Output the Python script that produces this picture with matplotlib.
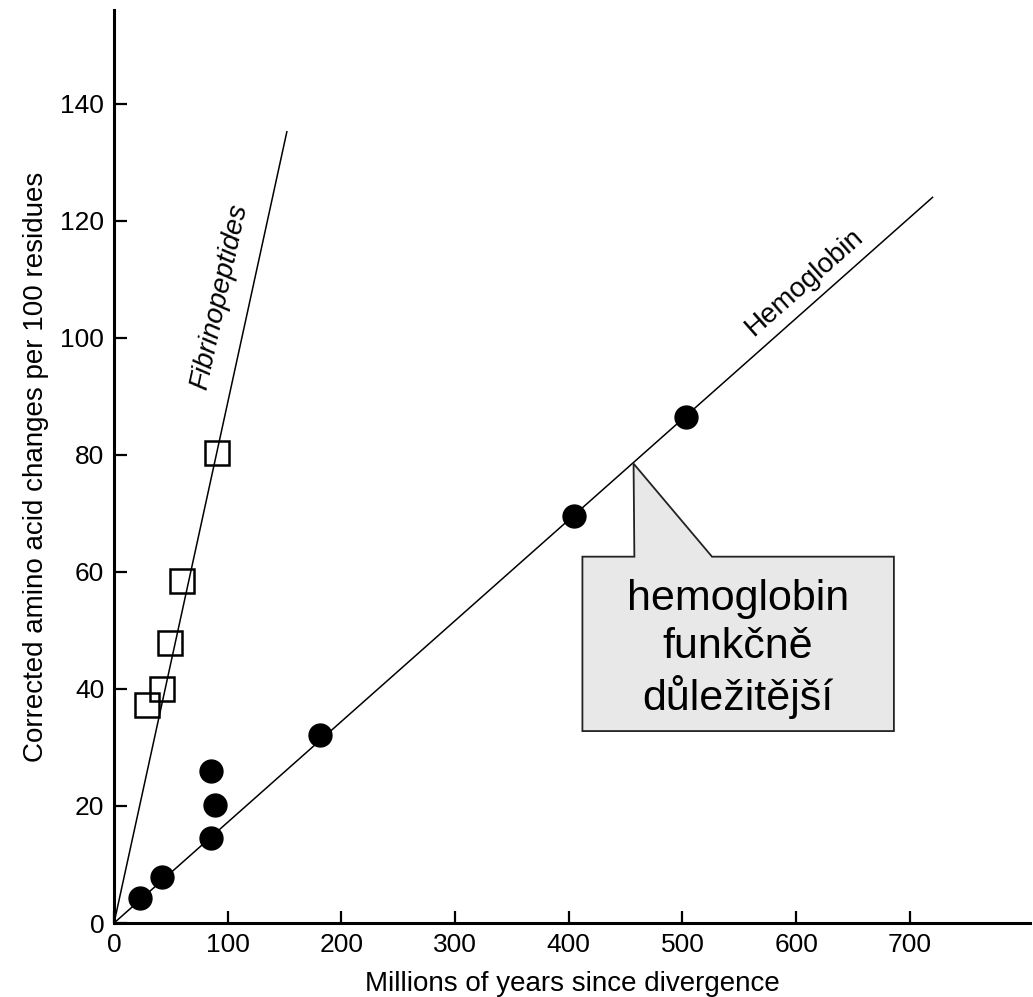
import matplotlib.pyplot as plt
from matplotlib.patches import Polygon

plt.rcParams['font.family'] = ['Liberation Sans', 'DejaVu Sans']

# hemoglobin points (millions of years, changes per 100 residues)
hemo_x = [23, 42, 85, 89, 85, 181, 405, 503]
hemo_y = [4.3, 7.9, 14.5, 20.2, 26.0, 32.1, 69.6, 86.5]
# fibrinopeptide points
fib_x = [29, 42, 49, 60, 91]
fib_y = [37.3, 40.0, 47.9, 58.5, 80.3]
# fitted lines (end points from origin)
hemo_line_x = [0, 720]
hemo_line_y = [0, 124]
fib_line_x = [0, 152]
fib_line_y = [0, 135.2]

xticks = [0, 100, 200, 300, 400, 500, 600, 700]
yticks = [0, 20, 40, 60, 80, 100, 120, 140]

fig = plt.figure(figsize=(10.33, 9.97), dpi=100)
ax = fig.add_axes([0.1104, 0.0742, 0.887, 0.9157])

ax.plot(hemo_line_x, hemo_line_y, color='black', lw=1.1, zorder=2)
ax.plot(fib_line_x, fib_line_y, color='black', lw=1.1, zorder=2)
ax.plot(hemo_x, hemo_y, 'o', color='black', ms=16.5, zorder=3)
ax.plot(fib_x, fib_y, 's', mfc='none', mec='black', mew=1.8, ms=17.5, zorder=3)

ax.set_xlim(0, 806)
ax.set_ylim(0, 156)
ax.set_xticks(xticks)
ax.set_yticks(yticks)
ax.tick_params(direction='in', length=9, width=1.6, labelsize=19, pad=7)
for s in ['top', 'right']:
    ax.spines[s].set_visible(False)
for s in ['left', 'bottom']:
    ax.spines[s].set_linewidth(2.2)

ax.set_xlabel('Millions of years since divergence', fontsize=20, labelpad=10)
ax.set_ylabel('Corrected amino acid changes per 100 residues', fontsize=20, labelpad=8)

ax.text(93, 107, 'Fibrinopeptides', rotation=77.7, rotation_mode='anchor',
        fontsize=20, style='italic', ha='center', va='center')
ax.text(607, 109.5, 'Hemoglobin', rotation=41.5, rotation_mode='anchor',
        fontsize=20, ha='center', va='center')

# callout box
box_l, box_r, box_b, box_t = 412, 686, 32.8, 62.6
tip = (457, 78.5)
callout = Polygon([(box_l, box_b), (box_l, box_t), (457.7, box_t), tip,
                   (526, box_t), (box_r, box_t), (box_r, box_b)],
                  closed=True, facecolor='#e8e8e8', edgecolor='#222222', lw=1.3, zorder=4)
ax.add_patch(callout)
ax.text((box_l + box_r) / 2, (box_b + box_t) / 2 - 0.9, 'hemoglobin\nfunkčně\ndůležitější',
        fontsize=31, ha='center', va='center', linespacing=1.25, zorder=5)

fig.savefig('out.png', dpi=100)
